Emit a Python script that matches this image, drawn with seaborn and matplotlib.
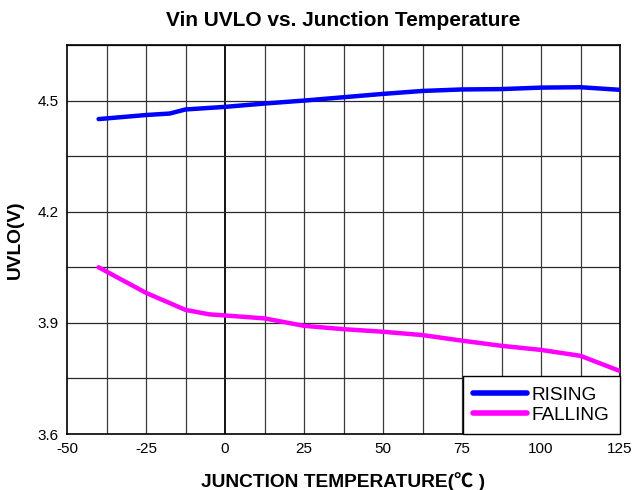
import matplotlib
matplotlib.use("Agg")
import matplotlib.pyplot as plt
import seaborn as sns
import pandas as pd
import numpy as np

# Junction temperature (°C) sample points
temp_rising = [-40, -25, -17.5, -12.5, 0, 12.5, 25, 37.5, 50, 62.5, 75, 87.5, 100, 112.5, 125]
uvlo_rising = [4.450, 4.461, 4.465, 4.476, 4.483, 4.492, 4.500, 4.509, 4.518, 4.526, 4.530, 4.531, 4.535, 4.536, 4.529]

temp_falling = [-40, -25, -12.5, -5, 0, 12.5, 25, 37.5, 50, 62.5, 75, 87.5, 100, 112.5, 125]
uvlo_falling = [4.050, 3.981, 3.935, 3.923, 3.920, 3.912, 3.892, 3.883, 3.876, 3.867, 3.852, 3.838, 3.827, 3.811, 3.770]

series_names = ["RISING", "FALLING"]
series_colors = ["#0000FF", "#FF00FF"]

x_ticks = [-50, -25, 0, 25, 50, 75, 100, 125]
y_ticks = [3.6, 3.9, 4.2, 4.5]

df = pd.concat([
    pd.DataFrame({"temp": temp_rising, "uvlo": uvlo_rising, "series": series_names[0]}),
    pd.DataFrame({"temp": temp_falling, "uvlo": uvlo_falling, "series": series_names[1]}),
])

sns.set_style("white")
plt.rcParams["font.family"] = ["Liberation Sans", "DejaVu Sans"]
plt.rcParams["axes.unicode_minus"] = False
plt.rcParams["text.color"] = "black"
plt.rcParams["axes.labelcolor"] = "black"

fig = plt.figure(figsize=(6.33, 4.90), dpi=100)
ax = fig.add_axes([67 / 633, 1 - 434 / 490, (620 - 67) / 633, (434 - 45) / 490])

# grid: every 12.5 °C and every 0.15 V
for xv in np.arange(-37.5, 125, 12.5):
    ax.axvline(xv, color="#000000" if xv == 0 else "#3a3a3a",
               lw=1.3 if xv == 0 else 0.9, zorder=1)
for yv in np.arange(3.75, 4.65, 0.15):
    ax.axhline(yv, color="#2a2a2a", lw=0.9, zorder=1)

sns.lineplot(data=df, x="temp", y="uvlo", hue="series", hue_order=series_names,
             palette=series_colors, lw=3.2, ax=ax, sort=True, zorder=3,
             solid_capstyle="round", solid_joinstyle="round")

ax.set_xlim(-50, 125)
ax.set_ylim(3.6, 4.65)
ax.set_xticks(x_ticks)
ax.set_yticks(y_ticks)
ax.set_yticklabels([f"{v:.1f}" for v in y_ticks])
ax.tick_params(axis="both", length=0, labelsize=11, pad=6, colors="#000000")

for sp in ax.spines.values():
    sp.set_color("black")
    sp.set_linewidth(1.2)

ax.set_xlabel("JUNCTION TEMPERATURE(℃ )", fontsize=13.8, fontweight="bold", labelpad=11,
              family=["Liberation Sans", "Noto Sans CJK SC", "DejaVu Sans"])
ax.set_ylabel("UVLO(V)", fontsize=13.8, fontweight="bold", labelpad=10)
ax.set_title("Vin UVLO vs. Junction Temperature", fontsize=15, fontweight="bold", pad=14)

leg = ax.legend(loc="lower right", fontsize=13.7, frameon=True, fancybox=False,
                borderaxespad=0, handlelength=2.8, handletextpad=0.27,
                labelspacing=0.12, borderpad=0.55, edgecolor="black")
leg.get_frame().set_linewidth(1.0)
leg.get_frame().set_alpha(1)
for line in leg.get_lines():
    line.set_linewidth(4)

fig.savefig("out.png", dpi=100)
